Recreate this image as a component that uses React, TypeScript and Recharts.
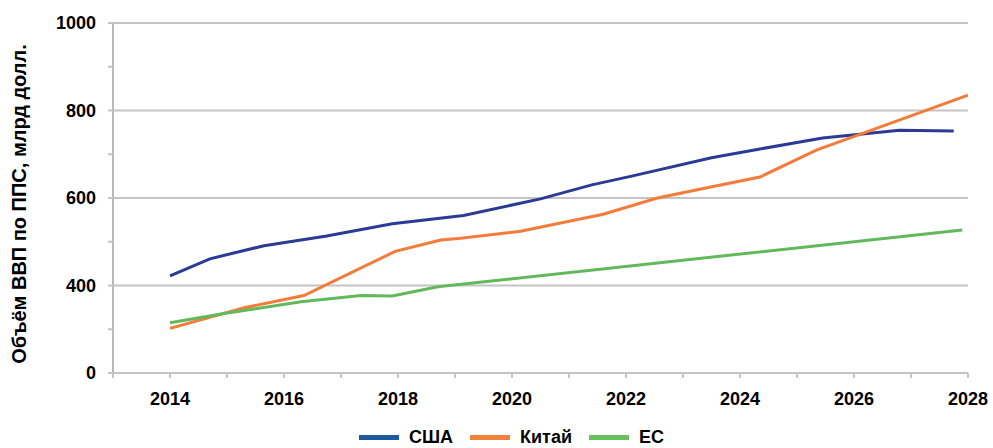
import React from "react";
import { LineChart, Line, XAxis, YAxis, CartesianGrid, Legend } from "recharts";

// ---- data ----
const seriesNames = ["США", "Китай", "ЕС"];
const lineColors = ["#2b3a94", "#f47b3a", "#62b95c"];
const legendColors = ["#1f5a9e", "#f0823c", "#6abf5e"];

const usYears = [2014, 2014.7, 2015.65, 2016.75, 2017.9, 2019.15, 2020.5, 2021.4, 2022.1, 2023.5, 2024.35, 2025.45, 2026.8, 2027.75];
const usValues = [422, 461, 491, 513, 541, 560, 598, 630, 650, 692, 712, 737, 755, 753];

const cnYears = [2014, 2015.3, 2016.35, 2017.95, 2018.75, 2019.1, 2020.15, 2021.6, 2022.55, 2023.4, 2024.35, 2025.35, 2026.2, 2028];
const cnValues = [302, 349, 377, 478, 504, 508, 524, 563, 600, 623, 648, 710, 750, 835];

const euYears = [2014, 2015, 2016.3, 2017.35, 2017.9, 2018.7, 2027.9];
const euValues = [315, 337, 363, 377, 376, 397, 527];

const xTicks = [2013, 2014, 2015, 2016, 2017, 2018, 2019, 2020, 2021, 2022, 2023, 2024, 2025, 2026, 2027, 2028];
const yTicks = [200, 300, 400, 500, 600, 700, 800, 900, 1000];
const yMajorTicks = [200, 400, 600, 800, 1000];
const yTickLabels = ["0", "400", "600", "800", "1000"];
const yGridValues = [400, 600, 800, 1000];
const yAxisTitle = "Объём ВВП по ППС, млрд долл.";

const toPoints = (years: number[], values: number[]) =>
  years.map((year, i) => ({ year, value: values[i] }));

const seriesData = [
  toPoints(usYears, usValues),
  toPoints(cnYears, cnValues),
  toPoints(euYears, euValues),
];

const FONT = "'Liberation Sans', Arial, sans-serif";
const GRID = "#c4c4c4";

const formatX = (v: number) => (v % 2 === 0 ? String(v) : "");
const formatY = (v: number) => {
  const idx = yMajorTicks.indexOf(v);
  return idx >= 0 ? yTickLabels[idx] : "";
};

const YTitle = (props: any) => {
  const vb = props.viewBox || { x: 0, y: 23, width: 113, height: 350 };
  const cx = 19;
  const cy = vb.y + vb.height / 2 + 6;
  return (
    <text
      x={cx}
      y={cy}
      transform={`rotate(-90, ${cx}, ${cy})`}
      textAnchor="middle"
      dominantBaseline="central"
      fontFamily={FONT}
      fontWeight="bold"
      fontSize={20}
      fill="#000"
    >
      {yAxisTitle}
    </text>
  );
};

const LegendContent = () => (
  <div
    style={{
      display: "flex",
      justifyContent: "center",
      alignItems: "center",
      paddingLeft: 30,
      fontFamily: FONT,
      fontWeight: "bold",
      fontSize: 18,
      color: "#000",
    }}
  >
    {seriesNames.map((name, i) => (
      <div key={name} style={{ display: "flex", alignItems: "center", marginRight: i < seriesNames.length - 1 ? 17 : 0 }}>
        <div style={{ width: 40, height: 5, background: legendColors[i], marginRight: 10 }} />
        <span>{name}</span>
      </div>
    ))}
  </div>
);

export default function App() {
  return (
    <div style={{ position: "absolute", left: 0, top: 0, width: 993, height: 448, background: "#fff" }}>
      <LineChart width={993} height={448} margin={{ top: 23, right: 25, left: 0, bottom: 45 }}>
        <CartesianGrid horizontal vertical={false} horizontalValues={yGridValues} stroke={GRID} strokeWidth={2} />
        <XAxis
          type="number"
          dataKey="year"
          domain={[2013, 2028]}
          ticks={xTicks}
          interval={0}
          tickFormatter={formatX}
          height={30}
          tickSize={5}
          tickMargin={14}
          axisLine={{ stroke: GRID, strokeWidth: 2 }}
          tickLine={{ stroke: GRID, strokeWidth: 2 }}
          tick={{ fontFamily: FONT, fontWeight: "bold", fontSize: 18, fill: "#000" }}
          allowDataOverflow
        />
        <YAxis
          type="number"
          domain={[200, 1000]}
          ticks={yTicks}
          interval={0}
          tickFormatter={formatY}
          width={113}
          tickSize={5}
          tickMargin={12}
          axisLine={{ stroke: "#b8b8b8", strokeWidth: 2 }}
          tickLine={{ stroke: GRID, strokeWidth: 2 }}
          tick={{ fontFamily: FONT, fontWeight: "bold", fontSize: 18, fill: "#000" }}
          label={{ content: YTitle }}
          allowDataOverflow
        />
        {seriesNames.map((name, i) => (
          <Line
            key={name}
            name={name}
            data={seriesData[i]}
            dataKey="value"
            type="linear"
            stroke={lineColors[i]}
            strokeWidth={3}
            dot={false}
            activeDot={false}
            isAnimationActive={false}
          />
        ))}
        <Legend
          layout="horizontal"
          verticalAlign="middle"
          align="center"
          content={<LegendContent />}
          wrapperStyle={{ top: 427, left: 0, width: 993 }}
        />
      </LineChart>
    </div>
  );
}
